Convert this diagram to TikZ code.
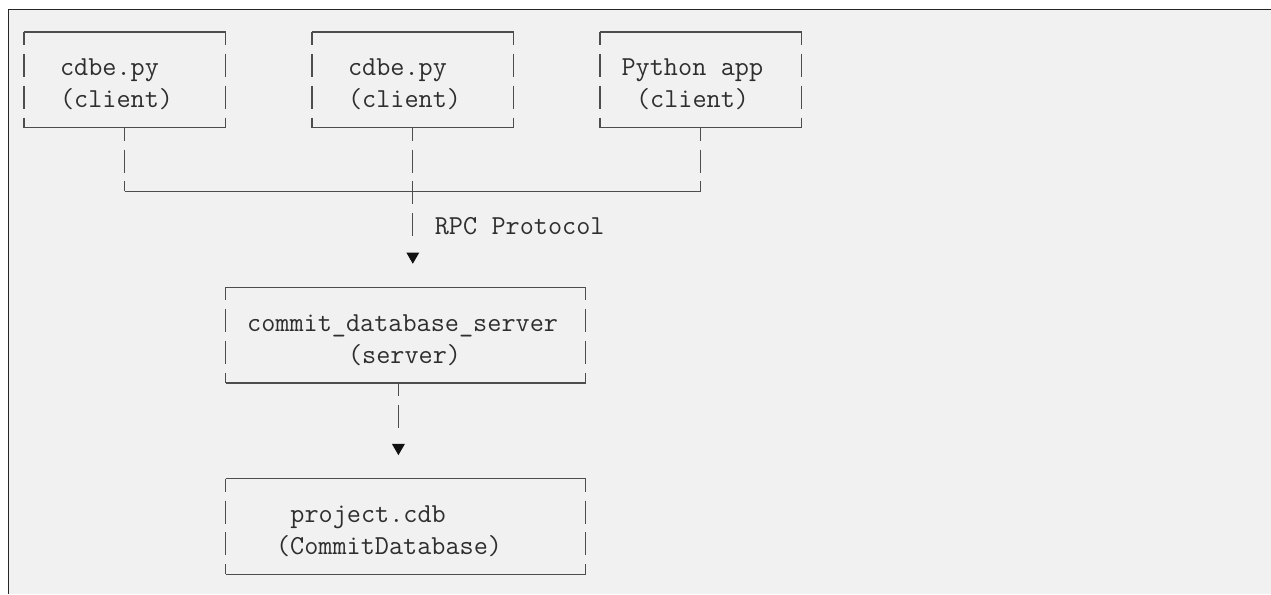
\documentclass[tikz,border=0pt]{standalone}
\usepackage{fontspec}
\usepackage{tikz}
\usetikzlibrary{shapes.geometric}

% one character cell of the mono grid
\newlength\chw  \setlength\chw{0.288cm}
\newlength\rowh \setlength\rowh{0.638cm}
\newcommand\cellpad[1]{\hspace*{#1\chw}}
\newcommand\gridfont{\ttfamily\fontsize{15.61pt}{\rowh}\selectfont}

\definecolor{pagebg}{HTML}{F1F1F1}
\definecolor{pageedge}{HTML}{262626}
\definecolor{inkline}{HTML}{4D4D4D}
\definecolor{inktext}{HTML}{2E2E2E}
\definecolor{inktip}{HTML}{111111}

\tikzset{
  % Generic box on the character grid
  cellbox/.style={
    rectangle, inner sep=0pt, outer sep=0pt,
    minimum height=3\rowh, align=left, text=inktext,
    font=\gridfont, text height=0.4cm, text depth=0.556cm
  },
  clientbox/.style={cellbox, minimum width=14\chw, text width=13\chw},
  serverbox/.style={cellbox, minimum width=25\chw, text width=24\chw},
  % Box-drawing strokes: runs of glyphs, so verticals break per row
  hline/.style={draw=inkline, line width=0.75pt},
  vline/.style={draw=inkline, line width=0.75pt,
    dash pattern=on 0.46cm off 0.178cm, dash phase=0.2cm},
  % Down arrow glyph
  downtip/.style={
    regular polygon, regular polygon sides=3, shape border rotate=180,
    minimum size=0.3cm, inner sep=0pt, outer sep=0pt,
    fill=inktip, draw=none
  },
  linklabel/.style={text=inktext, inner sep=0pt, font=\gridfont}
}

\begin{document}
\begin{tikzpicture}[x=\chw, y=-\rowh]

% ── Page ──────────────────────────────────────────────────────────────────────
\useasboundingbox (-1.667,-1.003) rectangle (86.597,17.618);
\fill[white] (-1.667,-1.003) rectangle (86.597,17.618);
\fill[pagebg] (-1.076,-0.705) rectangle (86.597,17.618);
\draw[pageedge, line width=0.85pt] (-1.076,17.618) -- (-1.076,-0.705) -- (86.597,-0.705);

% ── Clients ───────────────────────────────────────────────────────────────────
\node[clientbox] (cdbeA) at (7,1.5)  {\cellpad{2}cdbe.py\\\cellpad{2}(client)};
\node[clientbox] (cdbeB) at (27,1.5) {\cellpad{2}cdbe.py\\\cellpad{2}(client)};
\node[clientbox] (pyapp) at (47,1.5) {\cellpad{1}Python\cellpad{1}app\\\cellpad{2}(client)};

% ── Server and database ───────────────────────────────────────────────────────
\node[serverbox] (server) at (26.5,9.5)
  {\cellpad{1}commit\_database\_server\\\cellpad{8}(server)};
\node[serverbox] (cdb) at (26.5,15.5)
  {\cellpad{4}project.cdb\\\cellpad{3}(CommitDatabase)};

% box outlines
\foreach \b in {cdbeA,cdbeB,pyapp,server,cdb}{
  \draw[hline] (\b.north west) -- (\b.north east)
               (\b.south west) -- (\b.south east);
  \draw[vline] (\b.north west) -- (\b.south west)
               (\b.north east) -- (\b.south east);
}

% ── Arrow heads ───────────────────────────────────────────────────────────────
\node[downtip] (tipA) at (27,7.03) {};
\node[downtip] (tipB) at (26,13.03) {};

% ── Client bus ────────────────────────────────────────────────────────────────
\coordinate (busL) at (7,5);
\coordinate (busR) at (47,5);
\draw[vline] (cdbeA.south) -- (busL);
\draw[vline] (pyapp.south) -- (busR);
\draw[hline] (busL) -- (busR);

% trunk down to the server
\draw[vline, shorten >=0.32cm] (cdbeB.south) -- (tipA.north);
\node[linklabel, anchor=base west] (rpc) at (28.5,6.34) {RPC\cellpad{1}Protocol};

% server to database
\draw[vline, shorten >=0.3cm] (tipB |- server.south) -- (tipB.north);

\end{tikzpicture}
\end{document}
